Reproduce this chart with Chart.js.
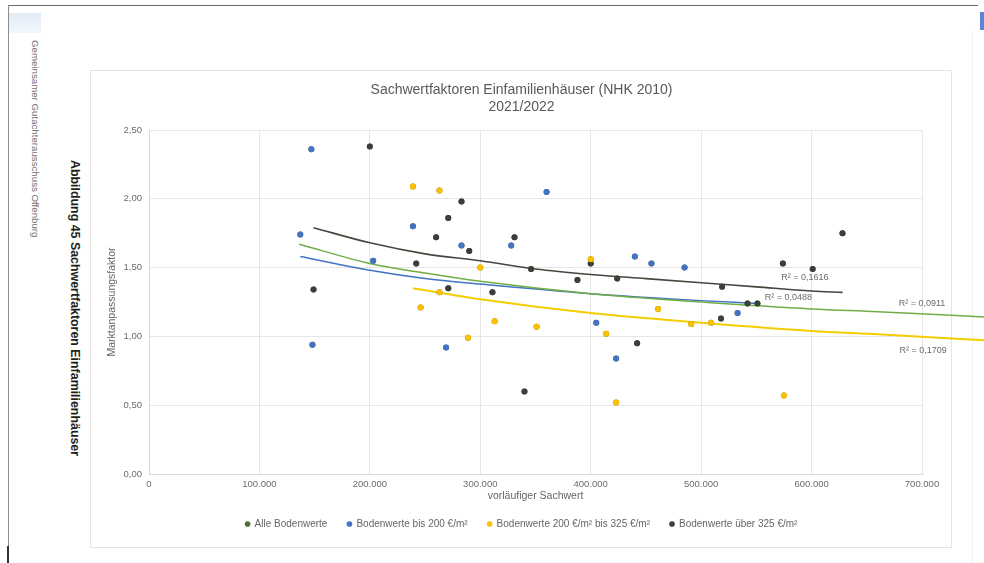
<!DOCTYPE html>
<html lang="de">
<head>
<meta charset="utf-8">
<title>Sachwertfaktoren Einfamilienhäuser (NHK 2010)</title>
<script src="https://cdn.jsdelivr.net/npm/chart.js@4.4.1/dist/chart.umd.min.js"></script>
<style>
  html, body { margin: 0; padding: 0; background: #fff; width: 984px; height: 563px; overflow: hidden;
               font-family: "Liberation Sans", Arial, sans-serif; }
  #page { position: relative; width: 984px; height: 563px; }
  .rule-top  { position: absolute; left: 8px; top: 5px; width: 970px; height: 1px; background: #6a6a6a; }
  .rule-left { position: absolute; left: 8px; top: 5px; width: 1px; height: 558px; background: #8c8c8c; }
  .rule-foot { position: absolute; left: 7px; top: 546px; width: 2px; height: 17px; background: #333; }
  .tab   { position: absolute; left: 9px; top: 13px; width: 32px; height: 20px; background: linear-gradient(#e2ebf7, #f3f7fc); }
  .tab-r { position: absolute; left: 980px; top: 12px; width: 4px; height: 18px; background: #5b86d6; }
  .edge-r { position: absolute; left: 972px; top: 30px; width: 1px; height: 533px; background: #f0f0f0; }
  .frame { position: absolute; left: 90px; top: 70px; width: 862px; height: 478px; border: 1px solid #e4e4e4; box-sizing: border-box; }
  .side  { position: absolute; white-space: nowrap; transform-origin: 0 0; transform: rotate(90deg); }
  .org   { left: 41px; top: 40px; font-size: 9.7px; color: #707070; }
  .fig   { left: 82px; top: 160px; font-size: 12.4px; font-weight: bold; color: #1e1e1e; }
  canvas { position: absolute; left: 0; top: 0; }
</style>
</head>
<body>
<div id="page">
  <div class="rule-top"></div>
  <div class="rule-left"></div>
  <div class="rule-foot"></div>
  <div class="tab"></div>
  <div class="tab-r"></div>
  <div class="edge-r"></div>
  <div class="frame"></div>
  <div class="side org">Gemeinsamer Gutachterausschuss Offenburg</div>
  <div class="side fig">Abbildung 45 Sachwertfaktoren Einfamilienhäuser</div>
  <canvas id="chart" width="984" height="563"></canvas>
</div>
<script>
// Series names (legend)
const seriesNames = [
  'Alle Bodenwerte',
  'Bodenwerte bis 200 €/m²',
  'Bodenwerte 200 €/m² bis 325 €/m²',
  'Bodenwerte über 325 €/m²'
];

// Bodenwerte bis 200 €/m²: vorläufiger Sachwert (€) and Marktanpassungsfaktor
const lowSachwert = [137000, 147000, 148000, 203000, 239000, 269000, 283000, 328000, 360000, 405000, 423000, 440000, 455000, 485000, 533000];
const lowFaktor   = [1.74, 2.36, 0.94, 1.55, 1.80, 0.92, 1.66, 1.66, 2.05, 1.10, 0.84, 1.58, 1.53, 1.50, 1.17];

// Bodenwerte 200 €/m² bis 325 €/m²
const midSachwert = [239000, 246000, 263000, 263000, 289000, 300000, 313000, 351000, 400000, 414000, 423000, 461000, 491000, 509000, 575000];
const midFaktor   = [2.09, 1.21, 2.06, 1.32, 0.99, 1.50, 1.11, 1.07, 1.56, 1.02, 0.52, 1.20, 1.09, 1.10, 0.57];

// Bodenwerte über 325 €/m²
const highSachwert = [149000, 200000, 242000, 260000, 271000, 271000, 283000, 290000, 311000, 331000, 340000, 346000,
                      388000, 400000, 424000, 442000, 518000, 519000, 542000, 551000, 574000, 601000, 628000];
const highFaktor   = [1.34, 2.38, 1.53, 1.72, 1.86, 1.35, 1.98, 1.62, 1.32, 1.72, 0.60, 1.49,
                      1.41, 1.53, 1.42, 0.95, 1.13, 1.36, 1.24, 1.24, 1.53, 1.49, 1.75];

// Trend curves (Potenz-Trendlinien)
const trendAllX  = [136000, 200000, 250000, 300000, 400000, 500000, 600000, 660000, 760000];
const trendAllY  = [1.67, 1.53, 1.46, 1.40, 1.31, 1.25, 1.20, 1.18, 1.14];
const trendLowX  = [137000, 200000, 250000, 300000, 400000, 500000, 551000];
const trendLowY  = [1.58, 1.48, 1.42, 1.38, 1.31, 1.26, 1.24];
const trendMidX  = [239000, 300000, 400000, 500000, 600000, 660000, 760000];
const trendMidY  = [1.35, 1.27, 1.17, 1.10, 1.04, 1.015, 0.97];
const trendHighX = [149000, 200000, 250000, 300000, 350000, 400000, 450000, 500000, 550000, 600000, 628000];
const trendHighY = [1.79, 1.68, 1.60, 1.55, 1.49, 1.45, 1.42, 1.39, 1.36, 1.33, 1.32];

// Bestimmtheitsmaß per trend: alle, bis 200, 200–325, über 325
const rSquared = [0.0911, 0.0488, 0.1709, 0.1616];

// Axis ticks
const xTicks = [0, 100000, 200000, 300000, 400000, 500000, 600000, 700000];
const yTicks = [0, 0.5, 1.0, 1.5, 2.0, 2.5];

// ---------------------------------------------------------------------------
const pairs = (xs, ys) => xs.map((x, i) => ({ x, y: ys[i] }));
const fmtThousands = v => String(Math.round(v)).replace(/\B(?=(\d{3})+(?!\d))/g, '.');
const fmtDecimal = (v, d) => v.toFixed(d).replace('.', ',');

const COLORS = {
  all:  '#70AD47',
  allMarker: '#4f6f3a',
  low:  '#4472C4',
  mid:  '#FFC000',
  midLine: '#F5CC00',
  high: '#3d3d3d'
};

Chart.defaults.font.family = "'Liberation Sans', Arial, sans-serif";
Chart.defaults.color = '#666';

const lowPts  = pairs(lowSachwert, lowFaktor);
const midPts  = pairs(midSachwert, midFaktor);
const highPts = pairs(highSachwert, highFaktor);

function pointSet(label, data, color, order) {
  return {
    label, data, order,
    pointRadius: 3, pointHoverRadius: 3, pointBorderWidth: 0,
    backgroundColor: color, borderColor: color, showLine: false
  };
}
function trendSet(label, data, color, width) {
  // clip: false lets the long curves run on past the 700.000 gridline
  return {
    label, data, order: 10, showLine: true, clip: false,
    pointRadius: 0, pointHoverRadius: 0,
    borderColor: color, backgroundColor: color, borderWidth: width,
    cubicInterpolationMode: 'monotone', fill: false
  };
}

// R² labels, anchored in data units next to each trend curve
const r2Anchors = [
  { x: 700000, y: 1.24 },  // alle
  { x: 579000, y: 1.28 },  // bis 200
  { x: 701000, y: 0.90 },  // 200–325
  { x: 594000, y: 1.43 }   // über 325
];
const r2Labels = {
  id: 'r2Labels',
  afterDatasetsDraw(chart) {
    const { ctx, scales: { x, y } } = chart;
    ctx.save();
    ctx.font = "9px 'Liberation Sans', Arial, sans-serif";
    ctx.fillStyle = '#6b6b6b';
    ctx.textAlign = 'center';
    ctx.textBaseline = 'middle';
    rSquared.forEach((r, i) => {
      const a = r2Anchors[i];
      ctx.fillText('R² = ' + fmtDecimal(r, 4), x.getPixelForValue(a.x), y.getPixelForValue(a.y));
    });
    ctx.restore();
  }
};

new Chart(document.getElementById('chart'), {
  type: 'scatter',
  data: {
    datasets: [
      pointSet(seriesNames[0], [...lowPts, ...midPts, ...highPts], COLORS.allMarker, 9),
      pointSet(seriesNames[1], lowPts, COLORS.low, 1),
      pointSet(seriesNames[2], midPts, COLORS.mid, 2),
      pointSet(seriesNames[3], highPts, COLORS.high, 3),
      trendSet('Trend alle', pairs(trendAllX, trendAllY), COLORS.all, 1.5),
      trendSet('Trend bis 200', pairs(trendLowX, trendLowY), COLORS.low, 1.5),
      trendSet('Trend 200–325', pairs(trendMidX, trendMidY), COLORS.midLine, 2),
      trendSet('Trend über 325', pairs(trendHighX, trendHighY), '#3f4a3c', 1.6)
    ]
  },
  options: {
    responsive: false,
    animation: false,
    events: [],
    layout: { padding: { left: 121, right: 62, top: 72, bottom: 24 } },
    plugins: {
      tooltip: { enabled: false },
      title: {
        display: true,
        text: ['Sachwertfaktoren Einfamilienhäuser (NHK 2010)', '2021/2022'],
        color: '#595959',
        font: { size: 14, weight: 'normal', lineHeight: 1.2 },
        padding: { top: 9.6, bottom: 14.8 }
      },
      legend: {
        position: 'bottom',
        labels: {
          usePointStyle: true,
          pointStyle: 'circle',
          boxWidth: 4,
          boxHeight: 4,
          padding: 20,
          color: '#666',
          font: { size: 10 },
          filter: item => item.datasetIndex < 4,
          sort: (a, b) => a.datasetIndex - b.datasetIndex
        }
      }
    },
    scales: {
      x: {
        type: 'linear',
        min: xTicks[0],
        max: xTicks[xTicks.length - 1],
        afterBuildTicks: s => { s.ticks = xTicks.map(v => ({ value: v })); },
        afterFit: s => { s.height = 25; s.paddingLeft = 0; s.paddingRight = 0; },
        grid: { color: '#e6e6e6', drawTicks: false },
        border: { color: '#d9d9d9' },
        ticks: { color: '#6b6b6b', font: { size: 9.5 }, padding: 5, callback: v => fmtThousands(v) },
        title: {
          display: true, text: 'vorläufiger Sachwert', color: '#666',
          font: { size: 10.5 }, padding: { top: 0, bottom: -3.3 }
        }
      },
      y: {
        type: 'linear',
        min: yTicks[0],
        max: yTicks[yTicks.length - 1],
        afterBuildTicks: s => { s.ticks = yTicks.map(v => ({ value: v })); },
        afterFit: s => { s.width = 28; s.paddingTop = 0; s.paddingBottom = 0; },
        grid: { color: '#e6e6e6', drawTicks: false },
        border: { color: '#d9d9d9' },
        ticks: { color: '#6b6b6b', font: { size: 9.5 }, padding: 7, callback: v => fmtDecimal(v, 2) },
        title: {
          display: true, text: 'Marktanpassungsfaktor', color: '#666',
          font: { size: 10.5 }, padding: { top: -15.3, bottom: 0 }
        }
      }
    }
  },
  plugins: [r2Labels]
});
</script>
</body>
</html>
